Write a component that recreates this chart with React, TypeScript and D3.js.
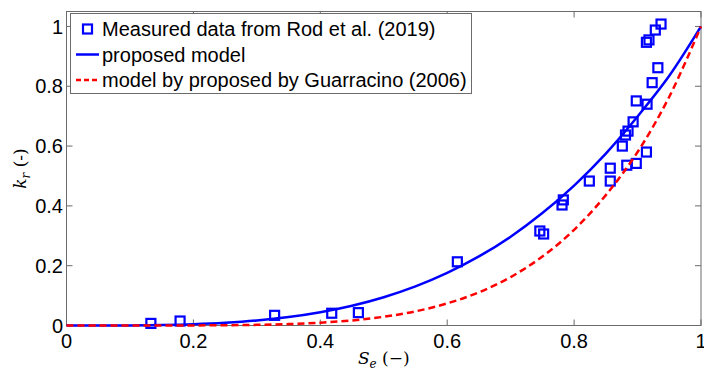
import React from "react";
import * as d3 from "d3";

// Measured relative permeability (Rod et al., 2019)
const measuredSe = [
  0.133, 0.179, 0.328, 0.418, 0.46, 0.616, 0.746, 0.752, 0.781, 0.783,
  0.824, 0.857, 0.857, 0.876, 0.881, 0.883, 0.885, 0.893, 0.898, 0.898,
  0.914, 0.915, 0.914, 0.918, 0.923, 0.928, 0.932, 0.937,
];
const measuredKr = [
  0.007, 0.015, 0.034, 0.041, 0.043, 0.213, 0.316, 0.306, 0.403, 0.42,
  0.483, 0.526, 0.483, 0.6, 0.637, 0.536, 0.65, 0.681, 0.751, 0.542,
  0.58, 0.74, 0.947, 0.955, 0.812, 0.988, 0.862, 1.008,
];

// Model curves sampled on an effective-saturation grid
const seGrid = [
  0, 0.05, 0.1, 0.15, 0.2, 0.25, 0.3, 0.35, 0.4, 0.45, 0.5,
  0.55, 0.6, 0.65, 0.7, 0.75, 0.8, 0.85, 0.9, 0.95, 1,
];
const proposedKr = [
  0, 0.0, 0.0004, 0.0016, 0.0042, 0.009, 0.0167, 0.0282, 0.0444, 0.0662, 0.0947,
  0.131, 0.176, 0.231, 0.297, 0.376, 0.468, 0.575, 0.699, 0.835, 1,
];
const guarracinoKr = [
  0, 0, 0, 0.0001, 0.0003, 0.0009, 0.0022, 0.0047, 0.0093, 0.017, 0.0292,
  0.0474, 0.0739, 0.111, 0.162, 0.2306, 0.32, 0.436, 0.58, 0.765, 1,
];

const xTicks = [0, 0.2, 0.4, 0.6, 0.8, 1];
const yTicks = [0, 0.2, 0.4, 0.6, 0.8, 1];

const legendLabels = [
  "Measured data from Rod et al. (2019)",
  "proposed model",
  "model by proposed by Guarracino (2006)",
];

const W = 704;
const H = 373;
const left = 66.5;
const right = 701;
const top = 11.5;
const bottom = 325.5;

export default function App() {
  const x = d3.scaleLinear().domain([0, 1]).range([left, right]);
  const y = d3.scaleLinear().domain([0, 1.05]).range([bottom, top]);
  const fmt = d3.format("~g");

  const line = d3
    .line<number>()
    .x((_, i) => x(seGrid[i]))
    .y((d) => y(d))
    .curve(d3.curveCatmullRom);

  const frame = "#6b6b6b";
  const tickLen = 6;
  const font = "Liberation Sans, Arial, Helvetica, sans-serif";
  const mathFont = "DejaVu Serif, Liberation Serif, serif";
  const sq = 9;

  const legendRows = [29, 54.5, 80];

  return (
    <svg
      width={W}
      height={H}
      style={{ position: "absolute", left: 0, top: 0, background: "#fff" }}
    >
      <rect x={0} y={0} width={W} height={H} fill="#fff" />
      {/* frame */}
      <rect
        x={left}
        y={top}
        width={right - left}
        height={bottom - top}
        fill="none"
        stroke={frame}
        strokeWidth={1}
      />
      {/* ticks */}
      {xTicks.map((t) => (
        <g key={"x" + t}>
          <line x1={x(t)} x2={x(t)} y1={bottom} y2={bottom - tickLen} stroke={frame} />
          <line x1={x(t)} x2={x(t)} y1={top} y2={top + tickLen} stroke={frame} />
          <text
            x={x(t)}
            y={348}
            textAnchor="middle"
            fontFamily={font}
            fontSize={20}
            fill="#000"
          >
            {fmt(t)}
          </text>
        </g>
      ))}
      {yTicks.map((t) => (
        <g key={"y" + t}>
          <line x1={left} x2={left + tickLen} y1={y(t)} y2={y(t)} stroke={frame} />
          <line x1={right} x2={right - tickLen} y1={y(t)} y2={y(t)} stroke={frame} />
          <text
            x={63}
            y={y(t)}
            dy="0.36em"
            textAnchor="end"
            fontFamily={font}
            fontSize={20}
            fill="#000"
          >
            {fmt(t)}
          </text>
        </g>
      ))}

      {/* measured data */}
      {measuredSe.map((s, i) => (
        <rect
          key={"m" + i}
          x={x(s) - sq / 2}
          y={y(measuredKr[i]) - sq / 2}
          width={sq}
          height={sq}
          fill="none"
          stroke="#0000ff"
          strokeWidth={2.2}
        />
      ))}

      {/* model curves */}
      <path d={line(proposedKr) || ""} fill="none" stroke="#0000ff" strokeWidth={2.5} />
      <path
        d={line(guarracinoKr) || ""}
        fill="none"
        stroke="#ff0000"
        strokeWidth={2.5}
        strokeDasharray="7 4"
      />

      {/* axis labels */}
      <text
        x={(left + right) / 2}
        y={364}
        textAnchor="middle"
        fontFamily={mathFont}
        fontSize={17}
        fill="#000"
      >
        <tspan fontStyle="italic">S</tspan>
        <tspan fontStyle="italic" fontSize={12} dy={4}>e</tspan>
        <tspan dy={-4}> (−)</tspan>
      </text>
      <text
        transform={`translate(26, ${(top + bottom) / 2}) rotate(-90)`}
        textAnchor="middle"
        fontFamily={mathFont}
        fontSize={17}
        fill="#000"
      >
        <tspan fontStyle="italic">k</tspan>
        <tspan fontStyle="italic" fontSize={12} dy={4}>r</tspan>
        <tspan dy={-4}> (-)</tspan>
      </text>

      {/* legend */}
      <rect x={70.5} y={13.5} width={401} height={80} fill="#fff" stroke={frame} strokeWidth={1} />
      <rect
        x={87.5 - sq / 2}
        y={legendRows[0] - sq / 2}
        width={sq}
        height={sq}
        fill="none"
        stroke="#0000ff"
        strokeWidth={2.2}
      />
      <line x1={76} x2={99} y1={legendRows[1]} y2={legendRows[1]} stroke="#0000ff" strokeWidth={2.5} />
      <line
        x1={76}
        x2={99}
        y1={legendRows[2]}
        y2={legendRows[2]}
        stroke="#ff0000"
        strokeWidth={2.5}
        strokeDasharray="5 3"
      />
      {legendLabels.map((l, i) => (
        <text
          key={l}
          x={102}
          y={legendRows[i]}
          dy="0.36em"
          fontFamily={font}
          fontSize={20}
          fill="#000"
        >
          {l}
        </text>
      ))}
    </svg>
  );
}
